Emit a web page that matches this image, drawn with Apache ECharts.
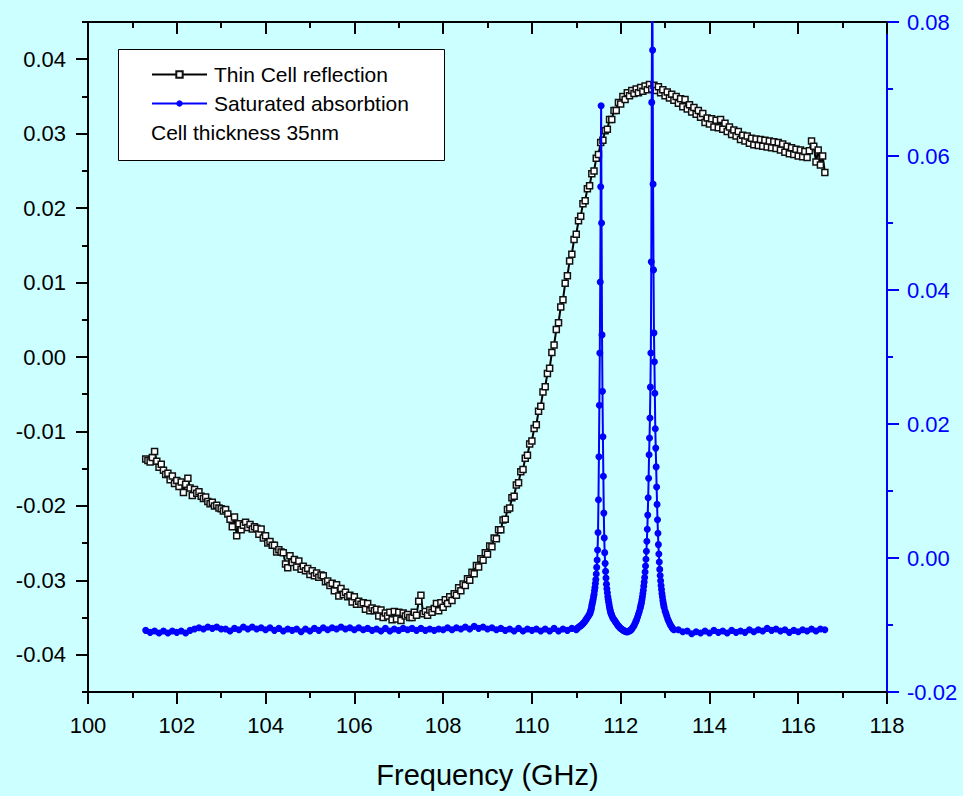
<!DOCTYPE html>
<html><head><meta charset="utf-8">
<script src="https://cdn.jsdelivr.net/npm/echarts@6/dist/echarts.min.js"></script>
<style>html,body{margin:0;padding:0;background:#ccffff}#c{width:963px;height:796px}</style>
</head><body><div id="c"></div><script>
// ---- Data ----
const seriesNames = ['Thin Cell reflection', 'Saturated absorbtion'];
const noteText = 'Cell thickness 35nm';
const xTitle = 'Frequency (GHz)';
const leftTickLabels = [-0.04, -0.03, -0.02, -0.01, 0.00, 0.01, 0.02, 0.03, 0.04];
const leftMinorTicks = [-0.045, -0.035, -0.025, -0.015, -0.005, 0.005, 0.015, 0.025, 0.035, 0.045];

// Thin cell reflection: sampled every 0.05 GHz from 101.30 GHz
const reflStart = 101.30, reflStep = 0.05;
const reflVal = [
-0.0137,-0.0139,-0.0141,-0.0135,-0.0127,-0.0140,-0.0148,-0.0144,-0.0152,-0.0158,
-0.0156,-0.0165,-0.0160,-0.0170,-0.0166,-0.0174,-0.0168,-0.0182,-0.0171,-0.0163,
-0.0176,-0.0186,-0.0178,-0.0183,-0.0181,-0.0187,-0.0190,-0.0188,-0.0194,-0.0197,
-0.0195,-0.0200,-0.0199,-0.0203,-0.0204,-0.0207,-0.0205,-0.0211,-0.0218,-0.0228,
-0.0215,-0.0240,-0.0224,-0.0232,-0.0226,-0.0222,-0.0229,-0.0225,-0.0231,-0.0228,
-0.0230,-0.0238,-0.0231,-0.0243,-0.0240,-0.0250,-0.0248,-0.0253,-0.0253,-0.0262,
-0.0259,-0.0262,-0.0263,-0.0278,-0.0283,-0.0267,-0.0276,-0.0272,-0.0282,-0.0274,
-0.0285,-0.0281,-0.0287,-0.0284,-0.0292,-0.0287,-0.0294,-0.0290,-0.0296,-0.0293,
-0.0294,-0.0302,-0.0301,-0.0307,-0.0304,-0.0314,-0.0306,-0.0321,-0.0311,-0.0319,
-0.0316,-0.0322,-0.0320,-0.0329,-0.0322,-0.0332,-0.0328,-0.0332,-0.0330,-0.0339,
-0.0331,-0.0341,-0.0337,-0.0341,-0.0339,-0.0348,-0.0340,-0.0350,-0.0344,-0.0348,
-0.0343,-0.0353,-0.0342,-0.0352,-0.0343,-0.0354,-0.0344,-0.0348,-0.0346,-0.0350,
-0.0350,-0.0343,-0.0347,-0.0328,-0.0320,-0.0345,-0.0342,-0.0347,-0.0340,-0.0343,
-0.0338,-0.0331,-0.0341,-0.0330,-0.0336,-0.0326,-0.0331,-0.0322,-0.0327,-0.0318,
-0.0320,-0.0310,-0.0314,-0.0305,-0.0307,-0.0298,-0.0300,-0.0289,-0.0291,-0.0280,
-0.0282,-0.0271,-0.0273,-0.0263,-0.0265,-0.0254,-0.0255,-0.0243,-0.0244,-0.0232,
-0.0232,-0.0219,-0.0218,-0.0205,-0.0203,-0.0189,-0.0187,-0.0172,-0.0169,-0.0154,
-0.0151,-0.0136,-0.0132,-0.0117,-0.0113,-0.0096,-0.0091,-0.0073,-0.0066,-0.0047,
-0.0040,-0.0022,-0.0015,0.0006,0.0016,0.0037,0.0046,0.0067,0.0077,0.0099,
0.0109,0.0129,0.0138,0.0158,0.0165,0.0183,0.0189,0.0206,0.0210,0.0226,
0.0230,0.0246,0.0250,0.0267,0.0272,0.0288,0.0291,0.0304,0.0306,0.0319,
0.0319,0.0331,0.0331,0.0342,0.0340,0.0350,0.0346,0.0355,0.0351,0.0358,
0.0354,0.0360,0.0355,0.0362,0.0357,0.0364,0.0359,0.0366,0.0360,0.0365,
0.0358,0.0363,0.0355,0.0359,0.0351,0.0356,0.0348,0.0353,0.0345,0.0350,
0.0341,0.0347,0.0336,0.0346,0.0333,0.0339,0.0329,0.0335,0.0326,0.0331,
0.0322,0.0327,0.0315,0.0321,0.0313,0.0320,0.0309,0.0318,0.0308,0.0319,
0.0306,0.0314,0.0303,0.0309,0.0299,0.0305,0.0297,0.0303,0.0292,0.0298,
0.0290,0.0297,0.0287,0.0294,0.0285,0.0293,0.0284,0.0292,0.0283,0.0291,
0.0282,0.0290,0.0281,0.0289,0.0280,0.0288,0.0278,0.0286,0.0275,0.0283,
0.0273,0.0281,0.0272,0.0279,0.0270,0.0278,0.0269,0.0276,0.0268,0.0277,
0.0290,0.0283,0.0262,0.0278,0.0258,0.0270,0.0248
];

// Saturated absorbtion: [frequency GHz, value]
const absPoints = [
[101.3,-0.0108],[101.4,-0.0111],[101.5,-0.0109],[101.6,-0.0112],[101.7,-0.0109],[101.8,-0.0112],[101.9,-0.0109],[102.0,-0.0111],[102.1,-0.0109],[102.2,-0.0112],[102.3,-0.0108],
[102.4,-0.0106],[102.5,-0.0104],[102.6,-0.0106],[102.7,-0.0103],[102.8,-0.0105],[102.9,-0.0103],[103.0,-0.0106],
[103.1,-0.0106],[103.2,-0.0109],[103.3,-0.0105],[103.4,-0.0107],[103.5,-0.0103],[103.6,-0.0106],[103.7,-0.0103],[103.8,-0.0106],[103.9,-0.0104],[104.0,-0.0107],
[104.1,-0.0104],[104.2,-0.0108],[104.3,-0.0105],[104.4,-0.0109],[104.5,-0.0106],[104.6,-0.0108],[104.7,-0.0106],[104.8,-0.0110],[104.9,-0.0106],[105.0,-0.0109],
[105.1,-0.0105],[105.2,-0.0108],[105.3,-0.0104],[105.4,-0.0107],[105.5,-0.0104],[105.6,-0.0106],[105.7,-0.0103],[105.8,-0.0106],[105.9,-0.0104],[106.0,-0.0107],
[106.1,-0.0104],[106.2,-0.0107],[106.3,-0.0105],[106.4,-0.0108],[106.5,-0.0106],[106.6,-0.0109],[106.7,-0.0105],[106.8,-0.0109],[106.9,-0.0106],[107.0,-0.0108],
[107.1,-0.0105],[107.2,-0.0107],[107.3,-0.0105],[107.4,-0.0108],[107.5,-0.0105],[107.6,-0.0108],[107.7,-0.0106],[107.8,-0.0108],[107.9,-0.0106],[108.0,-0.0107],
[108.1,-0.0104],[108.2,-0.0107],[108.3,-0.0104],[108.4,-0.0106],[108.5,-0.0103],[108.6,-0.0106],[108.7,-0.0102],[108.8,-0.0105],[108.9,-0.0103],[109.0,-0.0106],
[109.1,-0.0104],[109.2,-0.0107],[109.3,-0.0105],[109.4,-0.0108],[109.5,-0.0106],[109.6,-0.0109],[109.7,-0.0105],[109.8,-0.0109],[109.9,-0.0106],[110.0,-0.0108],
[110.1,-0.0106],[110.2,-0.0109],[110.3,-0.0106],[110.4,-0.0109],[110.5,-0.0105],[110.6,-0.0109],[110.7,-0.0106],[110.8,-0.0108],[110.9,-0.0105],[111.0,-0.0107],
[111.02,-0.0105],[111.04,-0.0104],[111.06,-0.0103],[111.08,-0.0102],[111.10,-0.0101],[111.12,-0.0100],[111.14,-0.0099],[111.16,-0.0097],[111.18,-0.0096],[111.20,-0.0094],[111.22,-0.0092],[111.24,-0.0090],[111.26,-0.0088],[111.28,-0.0086],
[111.30,-0.0084],[111.31,-0.0082],[111.32,-0.0080],[111.33,-0.0078],[111.34,-0.0075],[111.35,-0.0071],[111.36,-0.0068],[111.37,-0.0065],[111.38,-0.0062],[111.39,-0.0058],
[111.40,-0.0054],[111.41,-0.0049],[111.42,-0.0044],[111.43,-0.0038],[111.44,-0.0032],[111.45,-0.0024],[111.46,-0.0014],[111.47,-0.0003],[111.48,0.0012],[111.49,0.0038],
[111.50,0.0087],[111.51,0.0151],[111.52,0.0228],[111.53,0.0306],[111.54,0.0412],[111.55,0.0554],[111.56,0.0675],[111.57,0.0500],[111.58,0.0333],[111.59,0.0249],
[111.60,0.0181],[111.61,0.0122],[111.62,0.0067],[111.63,0.0030],[111.64,0.0008],[111.65,-0.0008],[111.66,-0.0020],[111.67,-0.0030],[111.68,-0.0039],[111.69,-0.0046],
[111.70,-0.0052],[111.71,-0.0058],[111.72,-0.0062],[111.73,-0.0066],[111.74,-0.0070],[111.75,-0.0074],[111.76,-0.0077],[111.77,-0.0080],[111.78,-0.0082],[111.79,-0.0084],[111.80,-0.0086],
[111.82,-0.0089],[111.84,-0.0091],[111.86,-0.0093],[111.88,-0.0095],[111.90,-0.0097],[111.92,-0.0099],[111.94,-0.0101],[111.96,-0.0102],[111.98,-0.0104],[112.00,-0.0105],
[112.02,-0.0106],[112.04,-0.0107],[112.06,-0.0108],[112.08,-0.0109],[112.10,-0.0109],[112.12,-0.0110],[112.14,-0.0110],[112.16,-0.0110],[112.18,-0.0109],[112.20,-0.0109],
[112.22,-0.0108],[112.24,-0.0107],[112.26,-0.0105],[112.28,-0.0103],[112.30,-0.0101],[112.32,-0.0098],[112.34,-0.0095],[112.36,-0.0092],[112.38,-0.0088],[112.40,-0.0084],[112.42,-0.0080],[112.44,-0.0075],
[112.45,-0.0072],[112.46,-0.0069],[112.47,-0.0066],[112.48,-0.0062],[112.49,-0.0058],[112.50,-0.0053],[112.51,-0.0048],[112.52,-0.0042],[112.53,-0.0036],[112.54,-0.0029],
[112.55,-0.0021],[112.56,-0.0012],[112.57,-0.0002],[112.58,0.0010],[112.59,0.0025],[112.60,0.0043],[112.61,0.0064],[112.62,0.0090],[112.63,0.0119],[112.64,0.0154],
[112.65,0.0179],[112.66,0.0209],[112.67,0.0255],[112.68,0.0306],[112.69,0.0442],[112.70,0.0680],[112.71,0.0880],[112.72,0.0758],[112.73,0.0558],[112.74,0.0430],
[112.75,0.0336],[112.76,0.0293],[112.77,0.0246],[112.78,0.0193],[112.79,0.0164],[112.80,0.0136],[112.81,0.0106],[112.82,0.0080],[112.83,0.0057],[112.84,0.0037],
[112.85,0.0020],[112.86,0.0006],[112.87,-0.0006],[112.88,-0.0017],[112.89,-0.0026],[112.90,-0.0034],[112.91,-0.0041],[112.92,-0.0047],[112.93,-0.0053],[112.94,-0.0058],
[112.95,-0.0063],[112.96,-0.0067],[112.97,-0.0071],[112.98,-0.0074],
[113.00,-0.0079],[113.02,-0.0083],[113.04,-0.0087],[113.06,-0.0091],[113.08,-0.0094],[113.10,-0.0097],[113.12,-0.0100],[113.14,-0.0102],[113.16,-0.0104],[113.18,-0.0106],[113.20,-0.0107],
[113.3,-0.0107],[113.4,-0.0110],[113.5,-0.0109],[113.6,-0.0113],[113.7,-0.0110],[113.8,-0.0112],[113.9,-0.0109],[114.0,-0.0112],[114.1,-0.0108],[114.2,-0.0111],
[114.3,-0.0109],[114.4,-0.0112],[114.5,-0.0108],[114.6,-0.0111],[114.7,-0.0109],[114.8,-0.0111],[114.9,-0.0107],[115.0,-0.0110],[115.1,-0.0107],[115.2,-0.0109],
[115.3,-0.0105],[115.4,-0.0108],[115.5,-0.0106],[115.6,-0.0109],[115.7,-0.0107],[115.8,-0.0111],[115.9,-0.0108],[116.0,-0.0110],[116.1,-0.0107],[116.2,-0.0109],
[116.3,-0.0106],[116.4,-0.0109],[116.5,-0.0106],[116.6,-0.0107]
];

// ---- Chart ----
const FONT = '"Liberation Sans", Arial, Helvetica, sans-serif';
const BLACK = '#000000', BLUE = '#0000ff';
const reflData = reflVal.map((v, i) => [+(reflStart + i * reflStep).toFixed(2), v]);

const chart = echarts.init(document.getElementById('c'), null, { renderer: 'svg' });
const xCommon = {
  type: 'value', min: 100, max: 118, interval: 2,
  axisLine: { onZero: false, lineStyle: { color: BLACK, width: 2 } },
  splitLine: { show: false }, minorSplitLine: { show: false }
};
chart.setOption({
  backgroundColor: '#ccffff',
  animation: false,
  grid: { left: 88, top: 22, right: 76, bottom: 104, containLabel: false },
  legend: {
    left: 151, top: 64, orient: 'vertical', padding: 0,
    itemWidth: 55, itemHeight: 8, itemGap: 8, selectedMode: false,
    textStyle: { fontFamily: FONT, fontSize: 21, color: BLACK, padding: [0, 0, 0, 2] },
    data: seriesNames
  },
  graphic: [
    { type: 'rect', left: 118, top: 49, z: 0,
      shape: { width: 326, height: 111 },
      style: { fill: '#ffffff', stroke: BLACK, lineWidth: 1 } },
    { type: 'text', left: 151, top: 122, z: 1,
      style: { text: noteText, font: '21px "Liberation Sans", Arial, sans-serif', fill: BLACK } }
  ],
  xAxis: [
    Object.assign({}, xCommon, {
      position: 'bottom',
      axisTick: { length: 12, lineStyle: { color: BLACK, width: 2 } },
      minorTick: { show: true, splitNumber: 2, length: 6, lineStyle: { color: BLACK, width: 2 } },
      axisLabel: { fontFamily: FONT, fontSize: 22, color: BLACK, margin: 22 },
      name: xTitle, nameLocation: 'middle', nameGap: 68,
      nameTextStyle: { fontFamily: FONT, fontSize: 29, color: BLACK }
    }),
    Object.assign({}, xCommon, {
      position: 'top',
      axisTick: { inside: true, length: 12, lineStyle: { color: BLACK, width: 2 } },
      minorTick: { show: true, splitNumber: 2, length: 6, lineStyle: { color: BLACK, width: 2 } },
      axisLabel: { show: false }
    })
  ],
  yAxis: [
    {
      type: 'value', position: 'left', min: -0.045, max: 0.045,
      axisLine: { onZero: false, lineStyle: { color: BLACK, width: 2 } },
      axisTick: { customValues: leftTickLabels, length: 12, lineStyle: { color: BLACK, width: 2 } },
      axisLabel: { customValues: leftTickLabels, formatter: v => v.toFixed(2),
        fontFamily: FONT, fontSize: 22, color: BLACK, margin: 22 },
      splitLine: { show: false }
    },
    {
      type: 'value', position: 'right', min: -0.02, max: 0.08, interval: 0.02,
      axisLine: { onZero: false, lineStyle: { color: BLUE, width: 2 } },
      axisTick: { length: 12, lineStyle: { color: BLUE, width: 2 } },
      minorTick: { show: true, splitNumber: 2, length: 6, lineStyle: { color: BLUE, width: 2 } },
      axisLabel: { formatter: v => v.toFixed(2), fontFamily: FONT, fontSize: 22, color: BLUE, margin: 20 },
      splitLine: { show: false }, minorSplitLine: { show: false }
    },
    {
      type: 'value', position: 'left', offset: 0, min: -0.045, max: 0.045,
      axisLine: { show: false, onZero: false },
      axisTick: { customValues: leftMinorTicks, length: 6, lineStyle: { color: BLACK, width: 2 } },
      axisLabel: { show: false },
      splitLine: { show: false }
    }
  ],
  series: [
    {
      name: seriesNames[0], type: 'line', xAxisIndex: 0, yAxisIndex: 0,
      data: reflData, symbol: 'rect', symbolSize: 6, showAllSymbol: true,
      lineStyle: { color: BLACK, width: 2 },
      itemStyle: { color: '#ffffff', borderColor: '#111111', borderWidth: 1.5 },
      emphasis: { disabled: true }, z: 2
    },
    {
      name: seriesNames[1], type: 'line', xAxisIndex: 0, yAxisIndex: 1,
      data: absPoints, symbol: 'circle', symbolSize: 7, showAllSymbol: true,
      lineStyle: { color: BLUE, width: 2 },
      itemStyle: { color: BLUE },
      emphasis: { disabled: true }, z: 3
    }
  ]
});
</script></body></html>
